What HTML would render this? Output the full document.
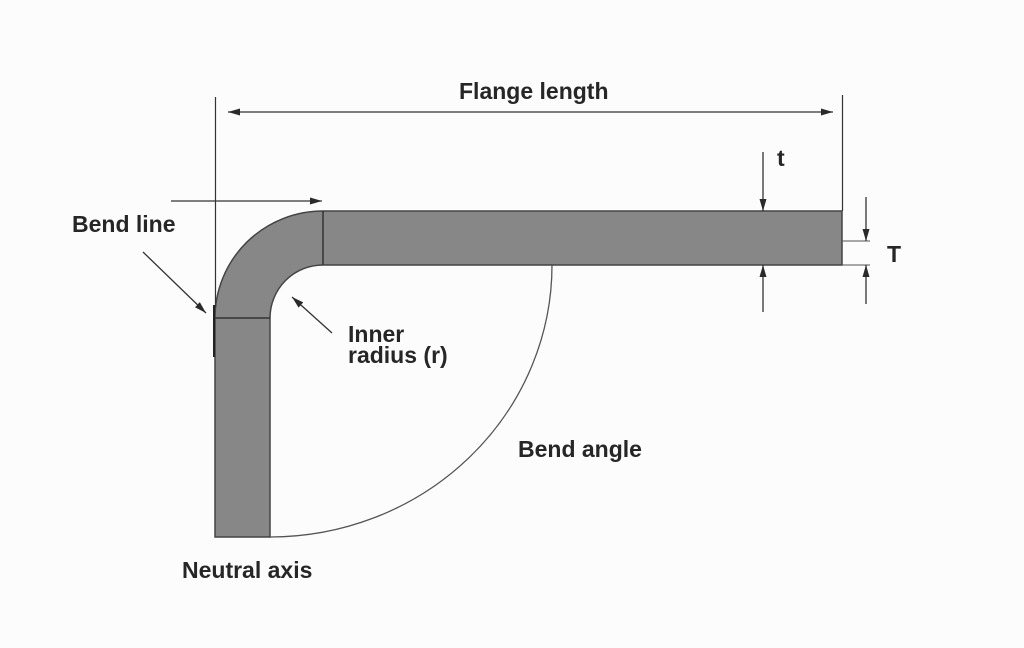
<!DOCTYPE html>
<html>
<head>
<meta charset="utf-8">
<style>
  html, body { margin: 0; padding: 0; background: #fcfcfc; }
  body { width: 1024px; height: 648px; overflow: hidden; }
  svg { display: block; }
  text { font-family: "Liberation Sans", Arial, sans-serif; font-weight: bold; font-size: 23px; fill: #262626; }
</style>
</head>
<body>
<svg width="1024" height="648" viewBox="0 0 1024 648" xmlns="http://www.w3.org/2000/svg">
  <defs>
    <marker id="ah" viewBox="0 0 12 7" refX="12" refY="3.5" markerWidth="12" markerHeight="7" markerUnits="userSpaceOnUse" orient="auto-start-reverse">
      <path d="M0,0 L12,3.5 L0,7 z" fill="#2a2a2a"/>
    </marker>
  </defs>
  <rect width="1024" height="648" fill="#fcfcfc"/>

  <!-- bend angle arc -->
  <path d="M270,537 A282,272 0 0 0 552,265" fill="none" stroke="#555" stroke-width="1.3"/>

  <!-- bent bar -->
  <path d="M215,537 L215,318 A108,107 0 0 1 323,211 L842,211 L842,265 L323,265 A53,53 0 0 0 270,318 L270,537 Z"
        fill="#878787" stroke="#444" stroke-width="1.5"/>
  <line x1="323" y1="211" x2="323" y2="265" stroke="#333" stroke-width="1.5"/>
  <line x1="215" y1="318" x2="270" y2="318" stroke="#333" stroke-width="1.5"/>
  <line x1="214" y1="305" x2="214" y2="357" stroke="#222" stroke-width="2"/>

  <!-- extension lines -->
  <line x1="215.5" y1="97" x2="215.5" y2="307" stroke="#333" stroke-width="1.2"/>
  <line x1="842.5" y1="95" x2="842.5" y2="211" stroke="#333" stroke-width="1.2"/>

  <!-- flange length dimension -->
  <line x1="228" y1="112" x2="833" y2="112" stroke="#333" stroke-width="1.3" marker-start="url(#ah)" marker-end="url(#ah)"/>

  <!-- bend line arrows -->
  <line x1="171" y1="201" x2="322" y2="201" stroke="#333" stroke-width="1.3" marker-end="url(#ah)"/>
  <line x1="143" y1="252" x2="206" y2="313" stroke="#333" stroke-width="1.3" marker-end="url(#ah)"/>

  <!-- inner radius arrow -->
  <line x1="332" y1="333" x2="292" y2="297" stroke="#333" stroke-width="1.3" marker-end="url(#ah)"/>

  <!-- t arrows -->
  <line x1="763" y1="152" x2="763" y2="211" stroke="#333" stroke-width="1.3" marker-end="url(#ah)"/>
  <line x1="763" y1="312" x2="763" y2="265" stroke="#333" stroke-width="1.3" marker-end="url(#ah)"/>

  <!-- T dimension -->
  <line x1="842" y1="241" x2="870" y2="241" stroke="#555" stroke-width="1.1"/>
  <line x1="842" y1="265" x2="870" y2="265" stroke="#555" stroke-width="1.1"/>
  <line x1="866" y1="197" x2="866" y2="241" stroke="#333" stroke-width="1.3" marker-end="url(#ah)"/>
  <line x1="866" y1="304" x2="866" y2="265" stroke="#333" stroke-width="1.3" marker-end="url(#ah)"/>

  <!-- labels -->
  <text x="459" y="99">Flange length</text>
  <text x="72" y="232">Bend line</text>
  <text x="348" y="342">Inner</text>
  <text x="348" y="363">radius (r)</text>
  <text x="518" y="457">Bend angle</text>
  <text x="182" y="578">Neutral axis</text>
  <text x="777" y="166">t</text>
  <text x="887" y="262">T</text>
</svg>
</body>
</html>
